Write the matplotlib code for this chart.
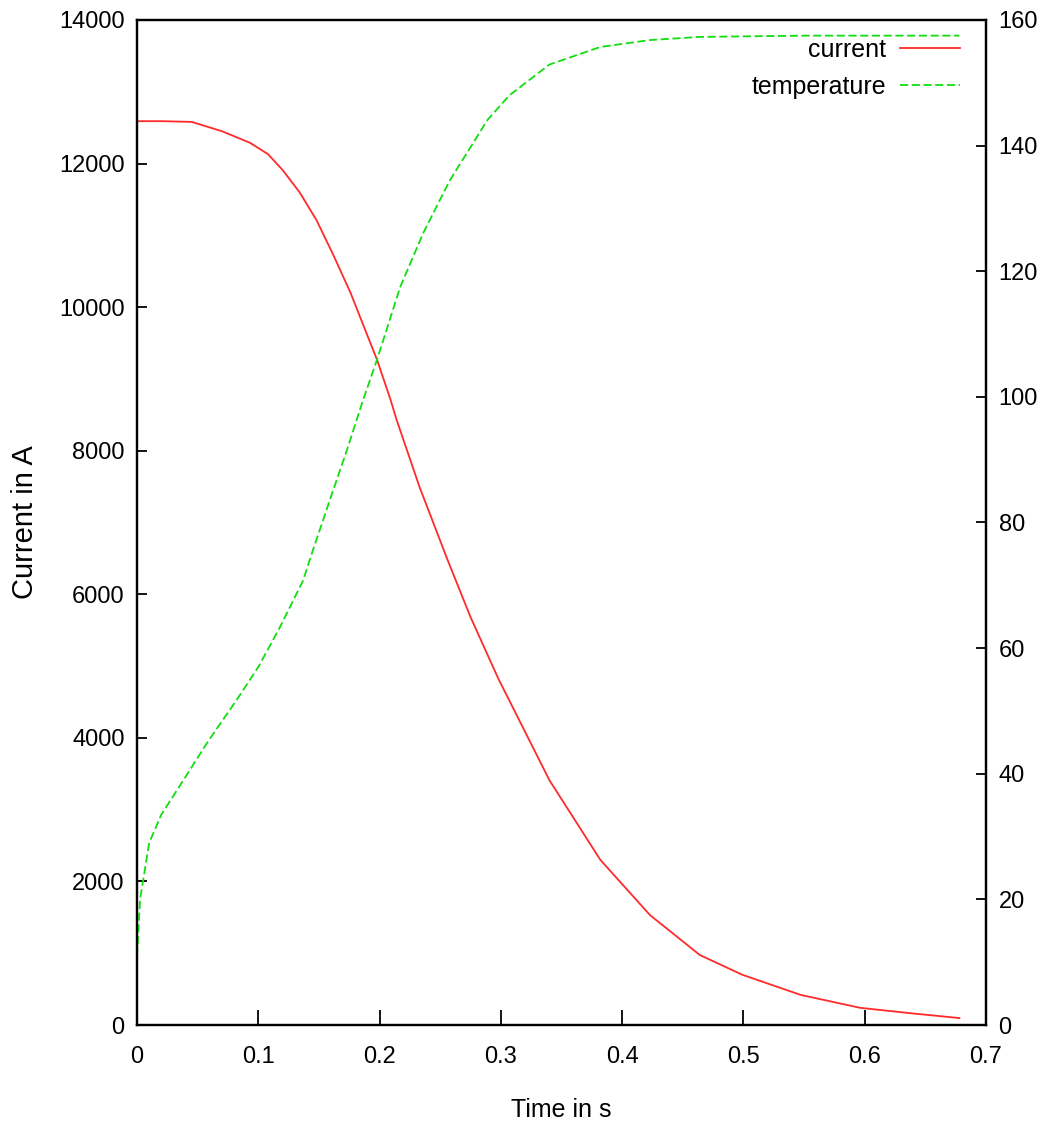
import matplotlib.pyplot as plt

# simulation output (time in s, current in A, temperature)
t_current = [0.0, 0.02, 0.045, 0.07, 0.093, 0.108, 0.120, 0.134, 0.148, 0.162,
             0.176, 0.198, 0.209, 0.214, 0.233, 0.256, 0.275, 0.298, 0.340, 0.382,
             0.423, 0.464, 0.499, 0.547, 0.596, 0.64, 0.678]
current = [12590, 12590, 12580, 12450, 12290, 12130, 11910, 11600, 11210, 10720,
           10200, 9260, 8710, 8430, 7490, 6480, 5680, 4820, 3410, 2300,
           1530, 975, 700, 420, 240, 160, 97]

t_temp = [0.0, 0.0025, 0.01, 0.02, 0.035, 0.058, 0.083, 0.100, 0.118, 0.137,
          0.145, 0.159, 0.173, 0.1855, 0.198, 0.217, 0.236, 0.258, 0.289, 0.307,
          0.340, 0.382, 0.423, 0.464, 0.55, 0.678]
temperature = [11, 20, 29, 33.5, 38, 45, 52, 57, 63.4, 70.8,
               75.6, 83.6, 91.5, 99, 106, 117.5, 126.1, 134.5, 144.1, 148,
               152.9, 155.7, 156.8, 157.3, 157.5, 157.5]

x_ticks = [0, 0.1, 0.2, 0.3, 0.4, 0.5, 0.6, 0.7]
y1_ticks = [0, 2000, 4000, 6000, 8000, 10000, 12000, 14000]
y2_ticks = [0, 20, 40, 60, 80, 100, 120, 140, 160]

plt.rcParams['font.family'] = ['Liberation Sans', 'DejaVu Sans']

fig = plt.figure(figsize=(10.43, 11.27), dpi=100)
ax = fig.add_axes([0.1314, 0.0905, 0.814, 0.8918])
ax2 = ax.twinx()

l1, = ax.plot(t_current, current, color='#ff2a2a', lw=1.3, label='current')
l2, = ax2.plot(t_temp, temperature, color='#11dd11', lw=1.3, ls=(0, (4.5, 2)),
               label='temperature')

ax.set_xlim(0, 0.7)
ax.set_ylim(0, 14000)
ax2.set_ylim(0, 160)
ax.set_xticks(x_ticks)
ax.set_xticklabels([f'{v:g}' for v in x_ticks])
ax.set_yticks(y1_ticks)
ax2.set_yticks(y2_ticks)

for a in (ax, ax2):
    a.tick_params(direction='in', width=1.3, labelsize=17)
    for s in a.spines.values():
        s.set_linewidth(1.6)
ax.tick_params(axis='x', length=11, pad=15)
ax.tick_params(axis='y', length=7, pad=9)
ax2.tick_params(axis='y', length=7, pad=9)

ax.set_xlabel('Time in s', fontsize=18, va='center')
ax.xaxis.set_label_coords(0.5, -0.0846)
ax.set_ylabel('Current in A', fontsize=21, va='center')
ax.yaxis.set_label_coords(-0.132, 0.5)

ax2.legend(handles=[l1, l2], loc='upper right', frameon=False, markerfirst=False,
           fontsize=18, handlelength=2.4, handletextpad=0.55, borderaxespad=0,
           borderpad=0, labelspacing=0.5, bbox_to_anchor=(0.9694, 0.982))

fig.savefig('out.png', dpi=100)
